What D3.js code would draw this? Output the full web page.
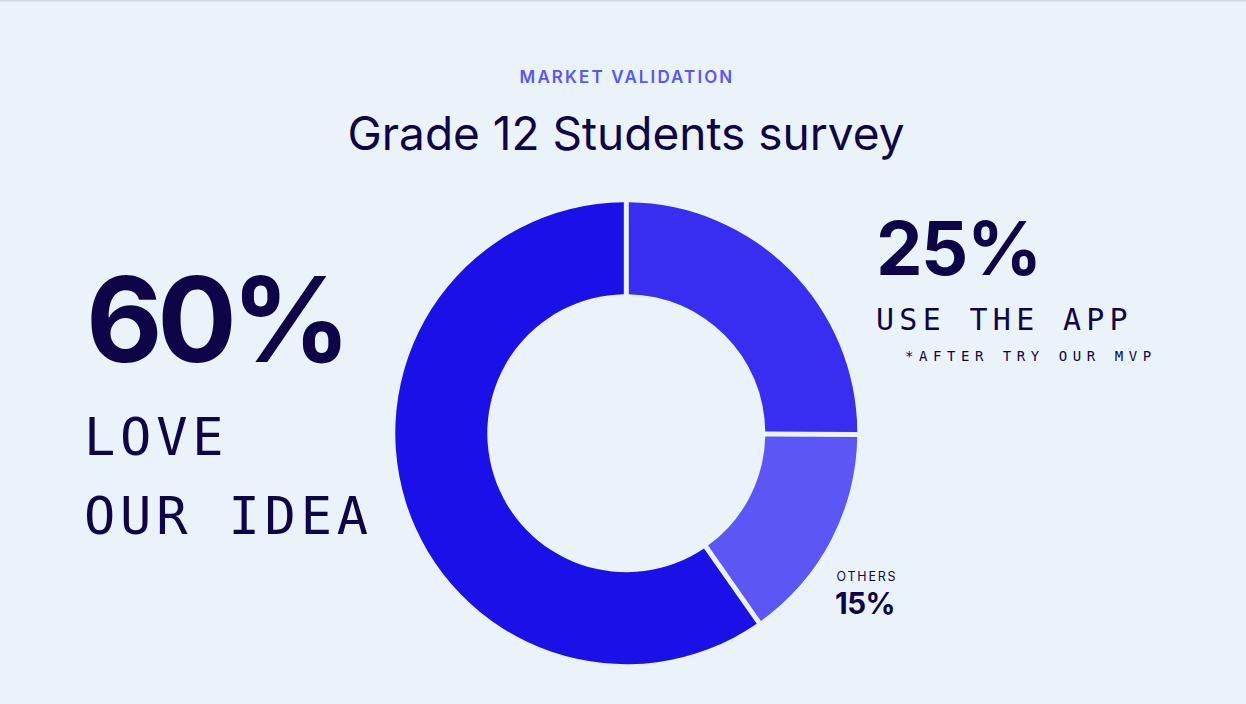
<!DOCTYPE html>
<html>
<head>
<meta charset="utf-8">
<script src="https://cdn.jsdelivr.net/npm/d3@7"></script>
<style>
  html, body { margin: 0; padding: 0; background: #ebf3fa; }
  svg { display: block; }
</style>
</head>
<body>
<svg id="chart" width="1246" height="704"></svg>
<script>
const categories = ["USE THE APP", "OTHERS", "LOVE OUR IDEA"];
const values = [25, 15, 60];
const colors = ["#372ef1", "#5b56f5", "#1a10e8"];
const percentLabels = ["25%", "15%", "60%"];

const W = 1246, H = 704;
const svg = d3.select("#chart");
svg.append("rect").attr("width", W).attr("height", H).attr("fill", "#ebf3fa");
svg.append("rect").attr("width", W).attr("height", 1.5).attr("fill", "#cfd9e4");

const navy = "#0e0548";
const sans = "Inter, 'Noto Sans', sans-serif";
const mono = "'DejaVu Sans Mono', 'Liberation Mono', monospace";

svg.append("text").attr("x", 627).attr("y", 82.5).attr("text-anchor", "middle")
  .attr("font-family", sans).attr("font-size", 17).attr("font-weight", 600)
  .attr("letter-spacing", 2.1).attr("fill", "#5b56f5").text("MARKET VALIDATION");

svg.append("text").attr("x", 626).attr("y", 149.5).attr("text-anchor", "middle")
  .attr("font-family", sans).attr("font-size", 46).attr("font-weight", 400)
  .attr("fill", navy).text("Grade 12 Students survey");

// Donut
const cx = 626.3, cy = 433.2, rOuter = 231, rInner = 139;
const pie = d3.pie().sort(null).value(d => d).padAngle(5 / rOuter);
const arc = d3.arc().innerRadius(rInner).outerRadius(rOuter).padRadius(rOuter);
const g = svg.append("g").attr("transform", `translate(${cx},${cy})`);
g.selectAll("path").data(pie(values)).join("path")
  .attr("d", arc).attr("fill", (d, i) => colors[i]);

// Left block: 60%
svg.append("text").attr("x", 86).attr("y", 361.5)
  .attr("font-family", sans).attr("font-size", 118).attr("font-weight", 700)
  .attr("letter-spacing", -5.5).attr("fill", navy).text(percentLabels[2]);
svg.append("text").attr("x", 84).attr("y", 455)
  .attr("font-family", mono).attr("font-size", 52).attr("letter-spacing", 4.8)
  .attr("fill", navy).text("LOVE");
svg.append("text").attr("x", 84).attr("y", 534)
  .attr("font-family", mono).attr("font-size", 52).attr("letter-spacing", 4.8)
  .attr("fill", navy).text("OUR IDEA");

// Right block: 25%
svg.append("text").attr("x", 876).attr("y", 275)
  .attr("font-family", sans).attr("font-size", 74).attr("font-weight", 700)
  .attr("letter-spacing", -1.5).attr("fill", navy).text(percentLabels[0]);
svg.append("text").attr("x", 876).attr("y", 330)
  .attr("font-family", mono).attr("font-size", 30).attr("letter-spacing", 5.3)
  .attr("fill", navy).text(categories[0]);
svg.append("text").attr("x", 905).attr("y", 360.5)
  .attr("font-family", mono).attr("font-size", 14).attr("letter-spacing", 5.55)
  .attr("fill", navy).text("*AFTER TRY OUR MVP");

// Others: 15%
svg.append("text").attr("x", 836.5).attr("y", 581)
  .attr("font-family", sans).attr("font-size", 12.5).attr("font-weight", 400)
  .attr("letter-spacing", 1.8).attr("fill", navy).text(categories[1]);
svg.append("text").attr("x", 835).attr("y", 614.3)
  .attr("font-family", sans).attr("font-size", 29.5).attr("font-weight", 700)
  .attr("letter-spacing", -0.5).attr("fill", navy).text(percentLabels[1]);
</script>
</body>
</html>
